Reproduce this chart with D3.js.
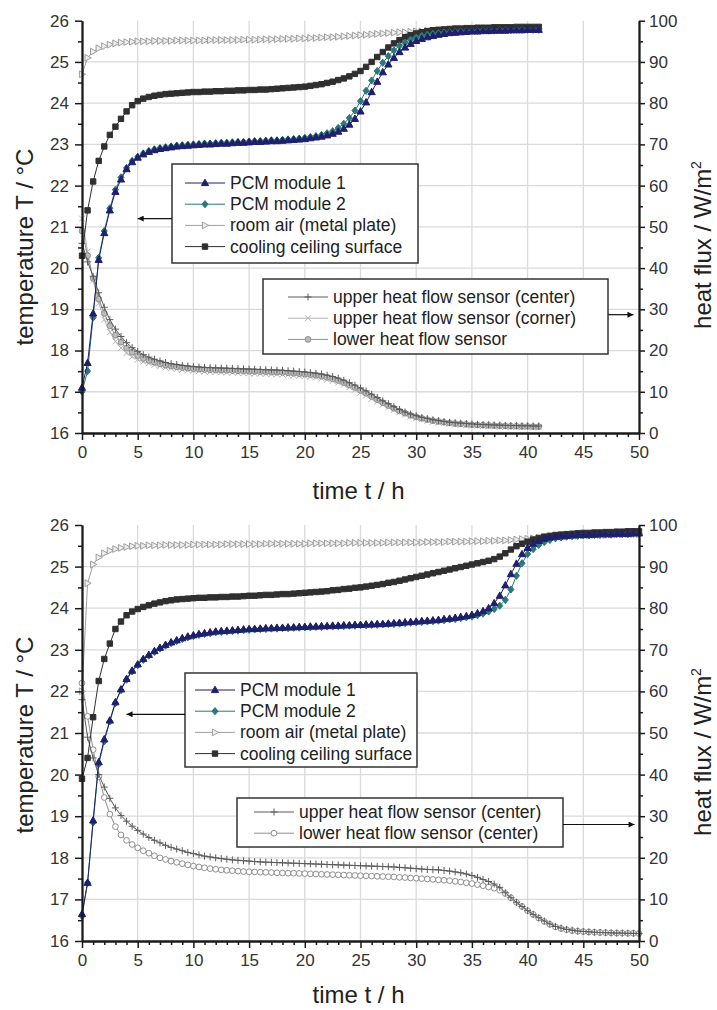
<!DOCTYPE html>
<html>
<head>
<meta charset="utf-8">
<script src="https://cdn.jsdelivr.net/npm/d3@7"></script>
<style>
  body { margin: 0; background: #fff; }
  text { font-family: "Liberation Sans", Arial, sans-serif; }
</style>
</head>
<body>
<div id="chart"></div>
<script>
// 時刻 (h)
const timeTop = [0,0.5,1,1.5,2,2.5,3,3.5,4,4.5,5,5.5,6,6.5,7,7.5,8,8.5,9,9.5,10,10.5,11,11.5,12,12.5,13,13.5,14,14.5,
  15,15.5,16,16.5,17,17.5,18,18.5,19,19.5,20,20.5,21,21.5,22,22.5,23,23.5,24,24.5,25,25.5,26,26.5,27,27.5,28,28.5,29,29.5,
  30,30.5,31,31.5,32,32.5,33,33.5,34,34.5,35,35.5,36,36.5,37,37.5,38,38.5,39,39.5,40,40.5,41];
const timeBottom = [0,0.5,1,1.5,2,2.5,3,3.5,4,4.5,5,5.5,6,6.5,7,7.5,8,8.5,9,9.5,10,10.5,11,11.5,12,12.5,13,13.5,14,14.5,
  15,15.5,16,16.5,17,17.5,18,18.5,19,19.5,20,20.5,21,21.5,22,22.5,23,23.5,24,24.5,25,25.5,26,26.5,27,27.5,28,28.5,29,29.5,
  30,30.5,31,31.5,32,32.5,33,33.5,34,34.5,35,35.5,36,36.5,37,37.5,38,38.5,39,39.5,40,40.5,41,41.5,42,42.5,43,43.5,44,44.5,
  45,45.5,46,46.5,47,47.5,48,48.5,49,49.5,50];

// 上のグラフ: 温度 (°C)
const pcm1Top = [17.1,17.7,18.9,20.2,20.85,21.4,21.85,22.15,22.4,22.57,
  22.68,22.76,22.82,22.86,22.89,22.91,22.93,22.95,22.96,22.97,
  22.98,22.99,23.0,23.0,23.01,23.02,23.02,23.03,23.04,23.04,
  23.05,23.06,23.06,23.07,23.08,23.08,23.09,23.1,23.11,23.12,
  23.13,23.15,23.17,23.19,23.22,23.26,23.31,23.38,23.48,23.62,
  23.8,24.02,24.27,24.52,24.75,24.94,25.1,25.24,25.35,25.44,
  25.51,25.56,25.6,25.63,25.66,25.68,25.7,25.71,25.72,25.73,
  25.74,25.74,25.75,25.75,25.76,25.76,25.76,25.77,25.77,25.77,
  25.78,25.78,25.78];
const pcm2Top = [17.0,17.5,18.8,20.25,20.9,21.45,21.9,22.2,22.43,22.6,
  22.7,22.78,22.84,22.88,22.91,22.93,22.95,22.97,22.98,22.99,
  23.0,23.01,23.02,23.02,23.03,23.04,23.04,23.05,23.06,23.06,
  23.07,23.08,23.08,23.09,23.1,23.1,23.11,23.12,23.13,23.14,
  23.16,23.18,23.2,23.23,23.27,23.32,23.4,23.5,23.64,23.82,
  24.05,24.3,24.55,24.78,24.98,25.14,25.28,25.39,25.47,25.54,
  25.59,25.63,25.66,25.68,25.7,25.71,25.72,25.73,25.74,25.74,
  25.75,25.75,25.76,25.76,25.76,25.77,25.77,25.77,25.78,25.78,
  25.78,25.78,25.78];
const roomTop = [24.7,25.1,25.25,25.33,25.38,25.42,25.45,25.47,25.48,25.49,
  25.5,25.5,25.5,25.51,25.51,25.51,25.51,25.52,25.52,25.52,
  25.52,25.52,25.52,25.53,25.53,25.53,25.53,25.53,25.53,25.54,
  25.54,25.54,25.54,25.55,25.55,25.55,25.56,25.56,25.56,25.57,
  25.57,25.58,25.58,25.59,25.6,25.6,25.61,25.62,25.63,25.64,
  25.65,25.66,25.67,25.68,25.69,25.7,25.71,25.72,25.72,25.73,
  25.74,25.74,25.75,25.75,25.76,25.76,25.77,25.77,25.77,25.78,
  25.78,25.78,25.79,25.79,25.79,25.79,25.8,25.8,25.8,25.8,
  25.8,25.8,25.8];
const coolTop = [20.3,21.4,22.1,22.6,22.95,23.23,23.43,23.62,23.8,23.95,
  24.05,24.11,24.15,24.18,24.2,24.22,24.23,24.24,24.25,24.26,
  24.27,24.27,24.28,24.28,24.29,24.29,24.3,24.3,24.31,24.31,
  24.32,24.32,24.33,24.33,24.34,24.35,24.36,24.37,24.38,24.39,
  24.4,24.42,24.44,24.46,24.49,24.52,24.56,24.6,24.65,24.71,
  24.78,24.88,25.0,25.12,25.24,25.35,25.45,25.53,25.6,25.65,
  25.69,25.72,25.75,25.77,25.78,25.79,25.8,25.81,25.81,25.82,
  25.82,25.83,25.83,25.83,25.84,25.84,25.84,25.84,25.85,25.85,
  25.85,25.85,25.85];

// 上のグラフ: 熱流束 (W/m²)
const upperCenterTop = [46,41.5,38,34,30.5,27.5,25.2,23.4,21.9,20.7,
  19.8,19.0,18.4,17.9,17.5,17.1,16.8,16.6,16.4,16.25,
  16.1,16.0,15.9,15.85,15.8,15.75,15.7,15.65,15.6,15.55,
  15.5,15.45,15.4,15.35,15.3,15.25,15.2,15.1,15.0,14.9,
  14.8,14.65,14.5,14.3,14.0,13.7,13.3,12.8,12.2,11.6,
  10.9,10.2,9.4,8.6,7.8,7.1,6.4,5.7,5.1,4.6,
  4.2,3.8,3.5,3.2,3.0,2.8,2.6,2.5,2.4,2.3,
  2.2,2.1,2.05,2.0,1.95,1.9,1.85,1.8,1.8,1.75,
  1.75,1.7,1.7];
const upperCornerTop = [52,44,37,31.5,27.5,24.5,22.2,20.6,19.4,18.5,
  17.8,17.3,16.9,16.5,16.2,15.9,15.7,15.5,15.35,15.2,
  15.1,15.0,14.9,14.85,14.8,14.75,14.7,14.65,14.6,14.55,
  14.5,14.45,14.4,14.35,14.3,14.25,14.2,14.1,14.0,13.9,
  13.8,13.65,13.5,13.25,12.95,12.6,12.2,11.7,11.1,10.5,
  9.8,9.1,8.3,7.6,6.9,6.2,5.6,5.0,4.5,4.0,
  3.6,3.3,3.0,2.75,2.55,2.4,2.25,2.1,2.0,1.9,
  1.8,1.75,1.7,1.65,1.6,1.55,1.5,1.5,1.45,1.45,
  1.4,1.4,1.4];
const lowerTop = [49,43,37.5,32.5,29,26,23.7,22,20.6,19.6,
  18.8,18.1,17.6,17.2,16.8,16.5,16.25,16.05,15.9,15.75,
  15.6,15.5,15.4,15.35,15.3,15.25,15.2,15.15,15.1,15.05,
  15.0,14.95,14.9,14.85,14.8,14.75,14.7,14.6,14.5,14.4,
  14.3,14.15,14.0,13.8,13.5,13.15,12.75,12.25,11.65,11.05,
  10.35,9.65,8.85,8.1,7.35,6.65,6.0,5.35,4.8,4.3,
  3.9,3.55,3.25,3.0,2.8,2.6,2.45,2.3,2.2,2.1,
  2.0,1.95,1.9,1.85,1.8,1.75,1.7,1.65,1.65,1.6,
  1.6,1.55,1.55];

// 下のグラフ: 温度 (°C)
const pcm1Bottom = [16.65,17.4,18.9,20.3,20.85,21.3,21.74,22.05,22.3,22.5,
  22.65,22.78,22.88,22.97,23.05,23.12,23.18,23.23,23.28,23.32,
  23.35,23.38,23.4,23.42,23.44,23.45,23.46,23.47,23.48,23.49,
  23.5,23.5,23.51,23.52,23.52,23.53,23.53,23.54,23.54,23.55,
  23.55,23.56,23.56,23.57,23.57,23.58,23.58,23.59,23.59,23.6,
  23.6,23.61,23.61,23.62,23.62,23.63,23.64,23.65,23.66,23.67,
  23.68,23.69,23.7,23.71,23.72,23.74,23.75,23.77,23.79,23.81,
  23.84,23.88,23.93,24.0,24.12,24.3,24.55,24.82,25.07,25.3,
  25.45,25.55,25.62,25.67,25.7,25.72,25.73,25.74,25.75,25.76,
  25.76,25.77,25.77,25.78,25.78,25.78,25.79,25.79,25.79,25.8,
  25.8];
const pcm2Bottom = [16.6,17.4,18.85,20.25,20.8,21.28,21.72,22.03,22.28,22.48,
  22.63,22.76,22.86,22.95,23.03,23.1,23.16,23.21,23.26,23.3,
  23.33,23.36,23.38,23.4,23.42,23.43,23.44,23.45,23.46,23.47,
  23.48,23.49,23.5,23.5,23.51,23.51,23.52,23.52,23.53,23.53,
  23.54,23.54,23.55,23.55,23.56,23.56,23.57,23.57,23.58,23.58,
  23.59,23.59,23.6,23.6,23.61,23.62,23.62,23.63,23.64,23.65,
  23.66,23.67,23.68,23.69,23.7,23.71,23.73,23.74,23.76,23.78,
  23.8,23.83,23.87,23.92,23.98,24.06,24.2,24.45,24.78,25.08,
  25.3,25.42,25.52,25.59,25.64,25.68,25.7,25.72,25.73,25.74,
  25.75,25.75,25.76,25.76,25.77,25.77,25.78,25.78,25.78,25.79,
  25.79];
const roomBottom = [22.0,24.6,25.05,25.22,25.32,25.38,25.42,25.45,25.47,25.49,
  25.5,25.5,25.51,25.51,25.51,25.52,25.52,25.52,25.52,25.52,
  25.53,25.53,25.53,25.53,25.53,25.53,25.54,25.54,25.54,25.54,
  25.54,25.54,25.54,25.55,25.55,25.55,25.55,25.55,25.55,25.55,
  25.55,25.56,25.56,25.56,25.56,25.56,25.56,25.56,25.57,25.57,
  25.57,25.57,25.57,25.57,25.57,25.58,25.58,25.58,25.58,25.58,
  25.58,25.58,25.59,25.59,25.59,25.59,25.6,25.6,25.6,25.6,
  25.61,25.61,25.61,25.62,25.62,25.63,25.63,25.64,25.65,25.66,
  25.67,25.68,25.69,25.7,25.71,25.72,25.72,25.73,25.74,25.74,
  25.75,25.75,25.76,25.76,25.76,25.77,25.77,25.77,25.78,25.78,
  25.78];
const coolBottom = [19.9,20.4,21.38,22.25,22.78,23.15,23.5,23.68,23.83,23.92,
  23.98,24.03,24.07,24.11,24.14,24.17,24.19,24.21,24.22,24.23,
  24.24,24.25,24.25,24.26,24.26,24.27,24.27,24.28,24.28,24.29,
  24.3,24.3,24.31,24.32,24.32,24.33,24.34,24.34,24.35,24.36,
  24.37,24.38,24.39,24.4,24.41,24.43,24.44,24.46,24.47,24.49,
  24.5,24.52,24.54,24.56,24.58,24.61,24.63,24.66,24.69,24.72,
  24.75,24.78,24.81,24.84,24.87,24.9,24.93,24.96,24.99,25.02,
  25.05,25.08,25.11,25.14,25.18,25.24,25.32,25.41,25.49,25.55,
  25.6,25.65,25.69,25.72,25.74,25.76,25.77,25.78,25.79,25.8,
  25.81,25.81,25.82,25.82,25.83,25.83,25.84,25.84,25.85,25.85,
  25.85];

// 下のグラフ: 熱流束 (W/m²)
const upperCenterBottom = [58,49,44,40,37,34.3,32,30.2,28.8,27.6,
  26.6,25.7,24.9,24.2,23.6,23.0,22.5,22.1,21.7,21.3,
  21.0,20.7,20.4,20.2,20.0,19.8,19.65,19.5,19.4,19.3,
  19.2,19.1,19.0,18.95,18.9,18.85,18.8,18.75,18.7,18.65,
  18.6,18.55,18.5,18.45,18.4,18.35,18.3,18.25,18.2,18.15,
  18.1,18.05,18.0,17.95,17.9,17.85,17.8,17.7,17.6,17.5,
  17.4,17.3,17.2,17.15,17.1,16.95,16.8,16.6,16.4,16.1,
  15.75,15.3,14.8,14.3,13.7,12.9,11.6,10.4,9.3,8.3,
  7.3,6.4,5.6,4.8,4.1,3.5,3.1,2.8,2.6,2.4,
  2.3,2.2,2.1,2.05,2.0,1.95,1.9,1.9,1.85,1.85,
  1.8];
const lowerCenterBottom = [62,54,46,39.5,34.5,30.5,27.5,25.5,24.2,23.2,
  22.4,21.7,21.1,20.5,20.0,19.6,19.2,18.9,18.6,18.3,
  18.0,17.8,17.6,17.4,17.25,17.1,17.0,16.9,16.8,16.7,
  16.65,16.6,16.55,16.5,16.45,16.4,16.35,16.3,16.3,16.25,
  16.2,16.15,16.1,16.05,16.0,15.95,15.9,15.85,15.8,15.75,
  15.7,15.65,15.6,15.55,15.5,15.45,15.4,15.3,15.25,15.15,
  15.1,15.0,14.9,14.8,14.7,14.6,14.5,14.35,14.2,14.0,
  13.8,13.55,13.3,13.0,12.7,12.2,11.4,10.4,9.3,8.3,
  7.3,6.4,5.5,4.7,4.0,3.4,3.0,2.7,2.5,2.35,
  2.25,2.15,2.1,2.05,2.0,1.95,1.9,1.9,1.85,1.85,
  1.8];

// 目盛り
const timeTicks = [0,5,10,15,20,25,30,35,40,45,50];
const timeMinor = [1,2,3,4,6,7,8,9,11,12,13,14,16,17,18,19,21,22,23,24,26,27,28,29,31,32,33,34,36,37,38,39,41,42,43,44,46,47,48,49];
const tempTicks = [16,17,18,19,20,21,22,23,24,25,26];
const tempMinor = [16.5,17.5,18.5,19.5,20.5,21.5,22.5,23.5,24.5,25.5];
const fluxTicks = [0,10,20,30,40,50,60,70,80,90,100];
const fluxMinor = [5,15,25,35,45,55,65,75,85,95];

// 凡例ラベル
const tempLabels = ['PCM module 1', 'PCM module 2', 'room air (metal plate)', 'cooling ceiling surface'];
const fluxLabelsTop = ['upper heat flow sensor (center)', 'upper heat flow sensor (corner)', 'lower heat flow sensor'];
const fluxLabelsBottom = ['upper heat flow sensor (center)', 'lower heat flow sensor (center)'];

// マーカーの形
const shapes = {
  triUp: 'M0,-3.8L3.6,2.6L-3.6,2.6Z',
  diamond: 'M0,-3.6L3,0L0,3.6L-3,0Z',
  triRight: 'M3.6,0L-2.6,-3.4L-2.6,3.4Z',
  square: 'M-2.7,-2.7H2.7V2.7H-2.7Z',
  plus: 'M-3.5,0H3.5M0,-3.5V3.5',
  cross: 'M-3,-3L3,3M-3,3L3,-3',
  circle: d3.symbol(d3.symbolCircle, 26)()
};

// 系列のスタイル
const styles = {
  pcm1: {color: '#1f1f6c', fill: '#1f1f6c', shape: 'triUp'},
  pcm2: {color: '#2c7878', fill: '#2c7878', shape: 'diamond'},
  room: {color: '#9e9e9e', fill: '#eeeeee', shape: 'triRight'},
  cool: {color: '#2f2f2f', fill: '#2f2f2f', shape: 'square'},
  upC: {color: '#5c5c5c', fill: 'none', shape: 'plus'},
  upK: {color: '#b4b4b4', fill: 'none', shape: 'cross'},
  low: {color: '#8e8e8e', fill: '#bcbcbc', shape: 'circle'},
  lowOpen: {color: '#8e8e8e', fill: '#ffffff', shape: 'circle'}
};

const width = 717;
const height = 1010;
const left = 82;
const right = 639;

const svg = d3.select('#chart')
  .append('svg')
  .attr('width', width)
  .attr('height', height);

// 矢印の先端
svg.append('defs').append('marker')
  .attr('id', 'arrow')
  .attr('viewBox', '0 0 10 10')
  .attr('refX', 10).attr('refY', 5)
  .attr('markerWidth', 9).attr('markerHeight', 6)
  .attr('markerUnits', 'userSpaceOnUse')
  .attr('orient', 'auto')
  .append('path')
  .attr('d', 'M0,0L10,5L0,10Z')
  .attr('fill', '#111');

function drawMarker(sel, style) {
  sel.attr('d', shapes[style.shape])
    .attr('fill', style.fill)
    .attr('stroke', style.color)
    .attr('stroke-width', 1);
}

function drawPanel(p) {
  const x = d3.scaleLinear().domain([0, 50]).range([left, right]);
  const yT = d3.scaleLinear().domain([16, 26]).range([p.bottom, p.top]);
  const yQ = d3.scaleLinear().domain([0, 100]).range([p.bottom, p.top]);
  const g = svg.append('g');

  // グリッド
  g.append('g').selectAll('line')
    .data(timeTicks.slice(1, -1))
    .join('line')
    .attr('x1', d => x(d)).attr('x2', d => x(d))
    .attr('y1', p.top).attr('y2', p.bottom)
    .attr('stroke', '#dadada').attr('stroke-width', 1.3);
  g.append('g').selectAll('line')
    .data(tempTicks.slice(1, -1))
    .join('line')
    .attr('x1', left).attr('x2', right)
    .attr('y1', d => yT(d)).attr('y2', d => yT(d))
    .attr('stroke', '#dadada').attr('stroke-width', 1.3);

  // 系列
  const line = (scale) => d3.line().x(d => x(d[0])).y(d => scale(d[1]));
  p.series.forEach(s => {
    const scale = s.axis === 'T' ? yT : yQ;
    const st = styles[s.style];
    const pts = d3.zip(p.time, s.values);
    g.append('path')
      .datum(pts)
      .attr('d', line(scale))
      .attr('fill', 'none')
      .attr('stroke', st.color)
      .attr('stroke-width', 1);
    g.append('g').selectAll('path')
      .data(pts)
      .join('path')
      .attr('transform', d => `translate(${x(d[0])},${scale(d[1])})`)
      .call(drawMarker, st);
  });

  // 軸
  const axisStyle = sel => {
    sel.select('.domain').attr('stroke', '#1a1a1a').attr('stroke-width', 1.8);
    sel.selectAll('.tick line').attr('stroke', '#1a1a1a').attr('stroke-width', 1.5);
    sel.selectAll('text').attr('font-size', 17).attr('fill', '#333')
      .attr('font-family', '"Liberation Sans", Arial, sans-serif');
  };
  g.append('g').attr('transform', `translate(0,${p.bottom})`)
    .call(d3.axisBottom(x).tickValues(timeMinor).tickSize(4).tickFormat('').tickSizeOuter(0))
    .call(axisStyle);
  g.append('g').attr('transform', `translate(0,${p.bottom})`)
    .call(d3.axisBottom(x).tickValues(timeTicks).tickSize(7).tickPadding(6).tickSizeOuter(0))
    .call(axisStyle);
  g.append('g').attr('transform', `translate(${left},0)`)
    .call(d3.axisLeft(yT).tickValues(tempMinor).tickSize(4).tickFormat('').tickSizeOuter(0))
    .call(axisStyle);
  g.append('g').attr('transform', `translate(${left},0)`)
    .call(d3.axisLeft(yT).tickValues(tempTicks).tickSize(7).tickPadding(6).tickSizeOuter(0))
    .call(axisStyle);
  g.append('g').attr('transform', `translate(${right},0)`)
    .call(d3.axisRight(yQ).tickValues(fluxMinor).tickSize(4).tickFormat('').tickSizeOuter(0))
    .call(axisStyle);
  g.append('g').attr('transform', `translate(${right},0)`)
    .call(d3.axisRight(yQ).tickValues(fluxTicks).tickSize(6).tickPadding(4).tickSizeOuter(0))
    .call(axisStyle);

  // 軸タイトル
  g.append('text')
    .attr('x', (left + right) / 2 - 2).attr('y', p.bottom + p.timeTitleDy)
    .attr('text-anchor', 'middle').attr('font-size', 24).attr('fill', '#222')
    .text('time t / h');
  g.append('text')
    .attr('transform', `translate(33,${p.leftTitleY}) rotate(-90)`)
    .attr('text-anchor', 'middle').attr('font-size', 24).attr('fill', '#222')
    .text('temperature T / °C');
  const rt = g.append('text')
    .attr('transform', `translate(711,${p.rightTitleY}) rotate(-90)`)
    .attr('text-anchor', 'middle').attr('font-size', 24).attr('fill', '#222');
  rt.append('tspan').text('heat flux / W/m');
  rt.append('tspan').attr('font-size', 14).attr('dy', -10).text('2');

  // 凡例
  p.legends.forEach(lg => {
    const lgG = g.append('g');
    lgG.append('rect')
      .attr('x', lg.x).attr('y', lg.y)
      .attr('width', lg.w).attr('height', lg.h)
      .attr('fill', '#fff').attr('stroke', '#333').attr('stroke-width', 1.5);
    lg.items.forEach((it, i) => {
      const cy = lg.y + lg.pad + i * 21.2;
      const st = styles[it.style];
      lgG.append('line')
        .attr('x1', lg.x + lg.lineStart).attr('x2', lg.x + lg.lineStart + 40)
        .attr('y1', cy).attr('y2', cy)
        .attr('stroke', st.color).attr('stroke-width', 1);
      lgG.append('path')
        .attr('transform', `translate(${lg.x + lg.lineStart + 20},${cy})`)
        .call(drawMarker, st);
      lgG.append('text')
        .attr('x', lg.x + lg.lineStart + 45).attr('y', cy + 6)
        .attr('font-size', 17.5).attr('fill', '#222')
        .text(it.label);
    });
    // 矢印
    const ay = lg.arrowAxis === 'T' ? yT(lg.arrowAt) : yQ(lg.arrowAt);
    g.append('line')
      .attr('x1', lg.arrowFrom).attr('x2', x(lg.arrowTo))
      .attr('y1', ay).attr('y2', ay)
      .attr('stroke', '#111').attr('stroke-width', 1.2)
      .attr('marker-end', 'url(#arrow)');
  });
}

drawPanel({
  top: 20.7, bottom: 433, leftTitleY: 247, rightTitleY: 245, timeTitleDy: 66,
  time: timeTop,
  series: [
    {axis: 'Q', style: 'upK', values: upperCornerTop},
    {axis: 'Q', style: 'low', values: lowerTop},
    {axis: 'Q', style: 'upC', values: upperCenterTop},
    {axis: 'T', style: 'room', values: roomTop},
    {axis: 'T', style: 'cool', values: coolTop},
    {axis: 'T', style: 'pcm2', values: pcm2Top},
    {axis: 'T', style: 'pcm1', values: pcm1Top}
  ],
  legends: [
    {x: 172, y: 164, w: 246, h: 99, pad: 19, lineStart: 13,
     arrowFrom: 172, arrowTo: 5, arrowAxis: 'T', arrowAt: 21.2,
     items: tempLabels.map((l, i) => ({label: l, style: ['pcm1', 'pcm2', 'room', 'cool'][i]}))},
    {x: 263, y: 279, w: 345, h: 75, pad: 18, lineStart: 25,
     arrowFrom: 608, arrowTo: 49.5, arrowAxis: 'Q', arrowAt: 28.7,
     items: fluxLabelsTop.map((l, i) => ({label: l, style: ['upC', 'upK', 'low'][i]}))}
  ]
});

drawPanel({
  top: 525, bottom: 941, leftTitleY: 735, rightTitleY: 752, timeTitleDy: 62,
  time: timeBottom,
  series: [
    {axis: 'Q', style: 'lowOpen', values: lowerCenterBottom},
    {axis: 'Q', style: 'upC', values: upperCenterBottom},
    {axis: 'T', style: 'room', values: roomBottom},
    {axis: 'T', style: 'cool', values: coolBottom},
    {axis: 'T', style: 'pcm2', values: pcm2Bottom},
    {axis: 'T', style: 'pcm1', values: pcm1Bottom}
  ],
  legends: [
    {x: 185, y: 673, w: 232, h: 94, pad: 17, lineStart: 10,
     arrowFrom: 185, arrowTo: 4, arrowAxis: 'T', arrowAt: 21.45,
     items: tempLabels.map((l, i) => ({label: l, style: ['pcm1', 'pcm2', 'room', 'cool'][i]}))},
    {x: 237, y: 798, w: 326, h: 49, pad: 14, lineStart: 17,
     arrowFrom: 563, arrowTo: 49.6, arrowAxis: 'Q', arrowAt: 28,
     items: fluxLabelsBottom.map((l, i) => ({label: l, style: ['upC', 'lowOpen'][i]}))}
  ]
});
</script>
</body>
</html>
